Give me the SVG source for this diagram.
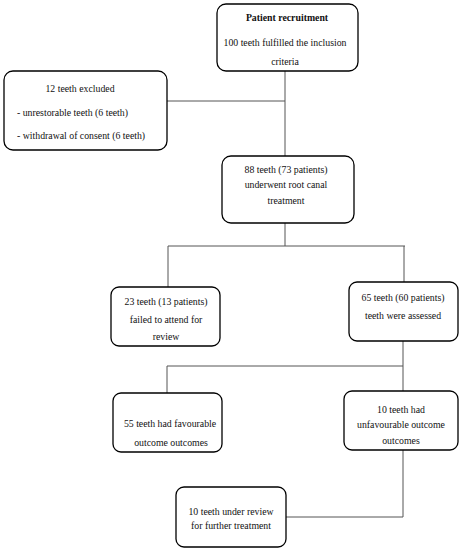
<svg xmlns="http://www.w3.org/2000/svg" width="463" height="550" viewBox="0 0 463 550">
<style>
.box{fill:#fff;stroke:#000;stroke-width:1.3}
.t{font-family:"Liberation Serif","DejaVu Serif",serif;font-size:9.8px;fill:#111;text-anchor:middle}
.b{font-weight:bold}
.l{text-anchor:start}
.c{stroke:#555;stroke-width:1;fill:none}
</style>
<rect width="463" height="550" fill="#fff"/>
<g id="connectors">
<line class="c" x1="285" y1="71" x2="285" y2="156"/>
<line class="c" x1="167" y1="101" x2="285" y2="101"/>
<line class="c" x1="285" y1="223" x2="285" y2="246"/>
<line class="c" x1="168" y1="246" x2="405" y2="246"/>
<line class="c" x1="168" y1="246" x2="168" y2="287"/>
<line class="c" x1="404" y1="246" x2="404" y2="282"/>
<line class="c" x1="403" y1="341" x2="403" y2="391"/>
<line class="c" x1="167" y1="366" x2="403" y2="366"/>
<line class="c" x1="167" y1="366" x2="167" y2="393"/>
<line class="c" x1="403" y1="450" x2="403" y2="517"/>
<line class="c" x1="286" y1="517" x2="403" y2="517"/>
</g>
<g id="n1">
<rect class="box" x="217" y="4" width="141" height="67" rx="9"/>
<text class="t b" x="287" y="21">Patient recruitment</text>
<text class="t" x="285" y="46">100 teeth fulfilled the inclusion</text>
<text class="t" x="285" y="65">criteria</text>
</g>
<g id="n2">
<rect class="box" x="4" y="71" width="163" height="79" rx="9"/>
<text class="t" x="80" y="92">12 teeth excluded</text>
<text class="t l" x="17" y="116">- unrestorable teeth (6 teeth)</text>
<text class="t l" x="17" y="139">- withdrawal of consent (6 teeth)</text>
</g>
<g id="n3">
<rect class="box" x="222" y="156" width="132" height="67" rx="9"/>
<text class="t" x="286" y="173">88 teeth (73 patients)</text>
<text class="t" x="286" y="188">underwent root canal</text>
<text class="t" x="286" y="204">treatment</text>
</g>
<g id="n4">
<rect class="box" x="111" y="287" width="109" height="59" rx="8"/>
<text class="t" x="166" y="305">23 teeth (13 patients)</text>
<text class="t" x="166" y="323">failed to attend for</text>
<text class="t" x="166" y="340">review</text>
</g>
<g id="n5">
<rect class="box" x="349" y="282" width="109" height="59" rx="8"/>
<text class="t" x="403" y="301">65 teeth (60 patients)</text>
<text class="t" x="403" y="319">teeth were assessed</text>
</g>
<g id="n6">
<rect class="box" x="113" y="393" width="109" height="59" rx="8"/>
<text class="t" x="170" y="427">55 teeth had favourable</text>
<text class="t" x="171" y="446">outcome outcomes</text>
</g>
<g id="n7">
<rect class="box" x="344" y="391" width="114" height="59" rx="8"/>
<text class="t" x="401" y="413">10 teeth had</text>
<text class="t" x="401" y="428">unfavourable outcome</text>
<text class="t" x="401" y="444">outcomes</text>
</g>
<g id="n8">
<rect class="box" x="176" y="487" width="110" height="60" rx="8"/>
<text class="t" x="231" y="515">10 teeth under review</text>
<text class="t" x="231" y="529">for further treatment</text>
</g>
</svg>
